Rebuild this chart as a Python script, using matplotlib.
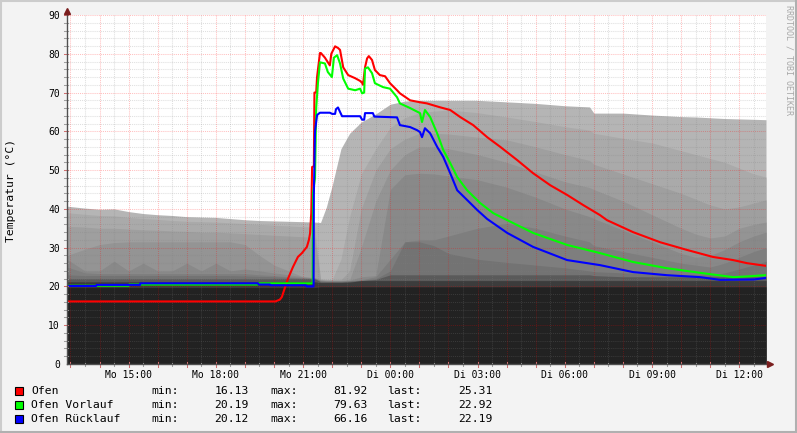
import matplotlib

matplotlib.use("Agg")
import matplotlib.pyplot as plt
import numpy as np
from matplotlib.lines import Line2D
from matplotlib.patches import Rectangle

W, H = 797, 433
MONO = "DejaVu Sans Mono"

# time axis: hours since Monday 00:00
T_START, T_END = 12.88, 36.92

# ---------------------------------------------------------------- data
# grey background layers (outlines of earlier days), top -> bottom
shade_t = [12.88, 13.5, 14.0, 14.5, 15.0, 15.5, 16.0, 16.5, 17.0, 17.5, 18.0,
           18.5, 19.0, 19.5, 20.0, 20.5, 21.0, 21.4,
           21.6, 21.8, 22.0, 22.3, 22.6, 23.0, 23.5, 24.0, 24.5, 25.0, 25.5,
           26.0, 27.0, 28.0, 29.0, 30.0, 30.85, 31.0, 32.0, 33.0, 34.0, 34.5,
           35.0, 35.5, 36.0, 36.5, 36.92]
shade_1 = [40.7, 40.2, 39.9, 40.0, 39.3, 38.8, 38.5, 38.3, 38.0, 37.9, 37.8,
           37.5, 37.2, 37.0, 36.9, 36.8, 36.7, 36.6,
           36.5, 40.5, 46.0, 55.5, 59.5, 62.4, 64.5, 67.0, 67.8, 68.0, 68.0,
           68.0, 68.0, 67.6, 67.2, 66.6, 66.3, 64.7, 64.7, 64.2, 63.8, 63.7,
           63.5, 63.3, 63.2, 63.1, 63.0]
shade_2 = [39.0, 38.6, 38.3, 38.2, 37.8, 37.5, 37.3, 37.0, 36.8, 36.7, 36.6,
           36.4, 36.2, 36.0, 35.8, 35.6, 35.4, 35.3,
           22.0, 21.8, 21.8, 27.0, 38.0, 49.0, 55.5, 61.0, 63.5, 64.8, 65.2,
           65.5, 64.8, 63.7, 62.5, 61.2, 60.3, 59.5, 58.2, 57.0, 55.0, 54.0,
           53.0, 52.0, 50.5, 49.0, 48.2]
shade_3 = [35.5, 35.3, 35.0, 35.0, 34.8, 34.6, 34.5, 34.3, 34.2, 34.0, 34.0,
           33.8, 33.6, 33.4, 33.2, 33.0, 32.8, 32.7,
           21.8, 21.7, 21.7, 21.7, 24.0, 40.0, 50.0, 55.5, 58.0, 59.5, 59.5,
           59.3, 58.5, 57.8, 56.0, 54.0, 52.5, 51.5, 49.0, 46.5, 44.0, 42.5,
           41.0, 40.0, 40.5, 41.5, 42.3]
shade_4 = [28.0, 29.6, 30.8, 31.3, 31.5, 31.5, 31.5, 31.5, 31.5, 31.5, 31.5,
           31.5, 30.8, 28.0, 25.5, 24.0, 22.5, 22.3,
           21.7, 21.6, 21.6, 21.6, 21.7, 30.0, 42.0, 50.0, 54.0, 56.0, 56.0,
           55.5, 54.0, 52.0, 49.5, 47.0, 45.5, 45.0, 42.0, 38.5, 35.0, 33.5,
           32.5, 33.0, 35.0, 36.0, 36.6]
shade_5 = [27.0, 24.0, 24.0, 26.5, 24.0, 26.0, 24.0, 24.0, 26.0, 24.0, 26.0,
           24.0, 24.5, 24.0, 23.5, 23.0, 22.5, 22.2,
           21.6, 21.5, 21.5, 21.5, 21.6, 21.7, 22.5, 45.0, 48.8, 49.2, 49.0,
           48.5, 47.5, 45.6, 43.0, 40.0, 38.0, 37.5, 34.5, 31.5, 28.5, 27.5,
           28.0, 29.5, 31.5, 33.0, 34.0]
shade_6 = [25.0, 23.5, 23.3, 23.3, 23.3, 23.3, 23.3, 23.3, 23.3, 23.3, 23.3,
           23.3, 23.3, 23.0, 22.8, 22.5, 22.3, 22.1,
           21.5, 21.4, 21.4, 21.4, 21.5, 21.6, 22.0, 27.0, 31.5, 32.0, 32.0,
           33.0, 35.0, 36.3, 35.0, 33.0, 31.5, 30.5, 29.0, 27.5, 26.0, 25.5,
           25.0, 26.0, 27.5, 29.0, 30.0]
shade_7 = [23.0, 22.8, 22.8, 22.8, 22.8, 22.8, 22.8, 22.8, 22.8, 22.8, 22.8,
           22.8, 22.7, 22.6, 22.5, 22.3, 22.1, 22.0,
           21.4, 21.3, 21.3, 21.3, 21.4, 21.5, 21.8, 24.0, 31.5, 31.5, 30.5,
           28.5, 27.0, 26.2, 25.5, 24.8, 24.0, 23.8, 23.5, 23.2, 23.0, 23.0,
           23.0, 23.5, 24.5, 25.5, 26.5]
shade_8 = [22.0, 22.0, 22.0, 22.0, 22.0, 22.0, 22.0, 22.0, 22.0, 22.0, 22.0,
           22.0, 22.0, 22.0, 22.0, 22.0, 22.0, 22.0,
           21.2, 21.2, 21.2, 21.2, 21.3, 22.5, 22.8, 23.0, 23.0, 23.0, 23.0,
           23.0, 23.0, 23.0, 23.0, 23.0, 23.0, 22.8, 22.5, 22.5, 22.5, 22.5,
           22.5, 22.5, 22.5, 22.5, 22.5]
shade_9 = [21.2, 21.2, 21.2, 21.2, 21.2, 21.2, 21.2, 21.2, 21.2, 21.2, 21.2,
           21.2, 21.2, 21.2, 21.2, 21.2, 21.2, 21.2,
           21.0, 21.0, 21.0, 21.0, 21.1, 21.5, 21.5, 21.5, 21.5, 21.5, 21.5,
           21.5, 21.5, 21.5, 21.5, 21.5, 21.5, 21.5, 21.5, 21.5, 21.5, 21.5,
           21.5, 21.5, 21.5, 21.5, 21.5]
shade_10 = [19.7, 19.7, 19.7, 19.7, 19.7, 19.7, 19.7, 19.7, 19.7, 19.7, 19.7,
            19.7, 19.7, 19.7, 19.7, 19.7, 19.7, 19.7,
            19.9, 19.9, 19.9, 19.9, 19.9, 19.9, 19.9, 19.9, 19.9, 19.9, 19.9,
            19.9, 19.9, 19.9, 19.9, 19.9, 19.9, 19.9, 19.9, 19.9, 19.9, 19.9,
            19.9, 19.9, 19.9, 19.9, 19.9]
shade_colors = ["#b5b5b5", "#aaaaaa", "#9f9f9f", "#949494", "#898989",
                "#7e7e7e", "#737373", "#5a5a5a", "#3c3c3c", "#222222"]

# Ofen
ofen_t = [12.88, 20.05, 20.10, 20.20, 20.27, 20.38, 20.48, 20.65, 20.82, 20.96,
          21.13, 21.20, 21.24, 21.28, 21.31, 21.37, 21.39, 21.45, 21.48, 21.58,
          21.61, 21.75, 21.92, 21.97, 22.10, 22.20, 22.27, 22.38, 22.55, 22.79,
          22.96, 23.03, 23.06, 23.13, 23.20, 23.26, 23.37, 23.47, 23.64, 23.82,
          23.99, 24.23, 24.33, 24.68, 25.02, 25.26, 25.71, 26.06, 26.40, 26.85,
          27.33, 27.78, 28.36, 28.91, 29.50, 30.08, 30.63, 31.21, 31.45, 32.35,
          33.28, 34.21, 35.10, 35.79, 36.27, 36.92]
ofen_v = [16.13, 16.13, 16.3, 16.6, 17.3, 19.8, 22.0, 25.0, 27.6, 28.6,
          30.2, 32.0, 33.7, 38.9, 50.8, 51.0, 70.0, 70.0, 74.0, 80.2,
          80.2, 79.0, 77.0, 80.0, 81.92, 81.5, 81.0, 76.5, 74.5, 73.7,
          73.0, 72.5, 72.0, 76.5, 78.8, 79.4, 78.4, 75.8, 74.5, 74.2,
          72.4, 70.6, 69.8, 68.0, 67.5, 67.2, 66.2, 65.5, 63.7, 61.6,
          58.5, 56.0, 52.6, 49.2, 46.1, 43.6, 41.0, 38.4, 37.1, 34.0,
          31.4, 29.4, 27.6, 26.8, 26.0, 25.31]

# Ofen Vorlauf
vor_t = [12.88, 15.0, 15.02, 19.45, 19.47, 21.33, 21.34, 21.41, 21.45, 21.51,
         21.58, 21.75, 21.85, 21.99, 22.06, 22.17, 22.27, 22.38, 22.55, 22.79,
         22.96, 23.03, 23.10, 23.13, 23.23, 23.37, 23.47, 23.75, 23.99, 24.23,
         24.33, 24.68, 25.02, 25.09, 25.19, 25.37, 25.61, 25.82, 26.06, 26.30,
         26.64, 27.09, 27.54, 28.02, 28.91, 30.08, 31.21, 32.35, 33.52, 34.66,
         35.79, 36.30, 36.92]
vor_v = [20.19, 20.19, 20.5, 20.5, 20.8, 20.8, 44.0, 48.0, 66.0, 72.4,
         77.8, 77.5, 75.3, 74.0, 79.0, 79.63, 77.5, 73.6, 71.0, 70.6,
         71.0, 69.8, 70.0, 76.2, 76.5, 75.0, 72.4, 71.4, 71.0, 68.8,
         67.2, 66.0, 64.7, 62.4, 65.5, 63.7, 59.5, 55.2, 51.8, 48.2,
         44.8, 41.5, 38.9, 37.1, 33.8, 30.7, 28.6, 26.3, 24.7, 23.5,
         22.4, 22.6, 22.92]

# Ofen Rücklauf
rueck_t = [12.88, 13.88, 13.90, 15.39, 15.40, 19.45, 19.47, 19.86, 19.88, 21.10,
           21.12, 21.36, 21.37, 21.41, 21.48, 21.58, 21.92, 22.00, 22.10, 22.13,
           22.20, 22.27, 22.34, 22.96, 23.03, 23.10, 23.13, 23.40, 23.45, 24.23,
           24.33, 24.68, 24.92, 25.02, 25.09, 25.19, 25.37, 25.61, 25.82, 26.06,
           26.30, 26.64, 26.99, 27.33, 28.02, 28.91, 30.08, 31.21, 32.35, 33.52,
           34.66, 35.34, 36.50, 36.92]
rueck_v = [20.12, 20.12, 20.4, 20.4, 20.8, 20.8, 20.5, 20.5, 20.3, 20.3,
           20.0, 20.0, 43.8, 60.0, 64.2, 64.8, 64.8, 64.5, 64.5, 65.7,
           66.16, 65.0, 63.9, 63.9, 63.0, 63.0, 64.7, 64.7, 63.8, 63.6,
           61.6, 61.1, 60.3, 59.8, 58.5, 60.8, 59.5, 56.0, 53.4, 49.2,
           44.8, 42.3, 39.7, 37.4, 33.8, 30.2, 26.8, 25.5, 23.7, 22.9,
           22.4, 21.7, 21.8, 22.19]

legend_names = ["Ofen", "Ofen Vorlauf", "Ofen Rücklauf"]
legend_colors = ["#ff0000", "#00ff00", "#0000ff"]
legend_min = ["16.13", "20.19", "20.12"]
legend_max = ["81.92", "79.63", "66.16"]
legend_last = ["25.31", "22.92", "22.19"]

xtick_pos = [15, 18, 21, 24, 27, 30, 33, 36]
xtick_labels = ["Mo 15:00", "Mo 18:00", "Mo 21:00", "Di 00:00",
                "Di 03:00", "Di 06:00", "Di 09:00", "Di 12:00"]


def fx(x):
    return x / W


def fy(y):
    return 1 - y / H


# ---------------------------------------------------------------- figure
fig = plt.figure(figsize=(W / 100, H / 100), dpi=100)
fig.patch.set_facecolor("#f3f3f3")
ax = fig.add_axes([fx(67), fy(364), (766 - 67) / W, (364 - 15) / H])
ax.set_facecolor("white")
ax.set_xlim(T_START, T_END)
ax.set_ylim(0, 90)

# grey layers: sorted so that deeper overlap is darker
levels = np.array([shade_1, shade_2, shade_3, shade_4, shade_5, shade_6,
                   shade_7, shade_8, shade_9, shade_10])
levels = -np.sort(-levels, axis=0)
for k in range(len(levels)):
    ax.fill_between(shade_t, 0, levels[k], color=shade_colors[k], lw=0,
                    zorder=1 + k * 0.01)

# dotted grid on top of the areas
dots = (0, (1, 1))
minor_c = (0.5, 0.5, 0.5, 0.25)
major_c = (1, 0, 0, 0.25)
for v in range(0, 91, 2):
    if v % 10:
        ax.axhline(v, color=minor_c, lw=0.75, ls=dots, zorder=3)
for v in range(10, 91, 10):
    ax.axhline(v, color=major_c, lw=0.75, ls=dots, zorder=3.1)
for h in np.arange(13.5, 36.6, 1.0):
    ax.axvline(h, color=minor_c, lw=0.75, ls=dots, zorder=3)
for h in range(13, 37):
    ax.axvline(h, color=major_c, lw=0.75, ls=dots, zorder=3.1)

# small ticks on the axes
xtr = ax.get_xaxis_transform()
ytr = ax.get_yaxis_transform()
for h in np.arange(13.5, 36.6, 1.0):
    ax.plot([h, h], [-0.006, 0.003], color="#a0a0a0", lw=0.75,
            transform=xtr, clip_on=False, zorder=6)
for h in range(13, 37):
    ax.plot([h, h], [-0.009, 0.006], color="#d07070", lw=0.75,
            transform=xtr, clip_on=False, zorder=6)
for v in range(2, 91, 2):
    ax.plot([-0.004, 0.002], [v, v], color="#a0a0a0" if v % 10 else "#d07070",
            lw=0.75, transform=ytr, clip_on=False, zorder=6)

# series
ax.plot(ofen_t, ofen_v, color="#ff0000", lw=1.5, zorder=5)
ax.plot(vor_t, vor_v, color="#00ff00", lw=1.5, zorder=5.1)
ax.plot(rueck_t, rueck_v, color="#0000ff", lw=1.5, zorder=5.2)

# axes
for s in ("top", "right"):
    ax.spines[s].set_visible(False)
for s in ("left", "bottom"):
    ax.spines[s].set_color("#505050")
    ax.spines[s].set_linewidth(1.0)
    ax.spines[s].set_zorder(7)
ax.plot([0], [1.012], marker="^", ms=5, color="#7a1e1e", mec="#7a1e1e",
        transform=ax.transAxes, clip_on=False, zorder=8)
ax.plot([1.006], [0], marker=">", ms=5, color="#7a1e1e", mec="#7a1e1e",
        transform=ax.transAxes, clip_on=False, zorder=8)

ax.set_yticks(range(0, 91, 10))
ax.set_yticklabels([str(v) for v in range(0, 91, 10)])
ax.set_xticks(xtick_pos)
ax.set_xticklabels(xtick_labels)
ax.tick_params(length=0, labelsize=7, colors="#000000")
ax.tick_params(axis="y", pad=5)
ax.tick_params(axis="x", pad=4)
for lbl in ax.get_xticklabels() + ax.get_yticklabels():
    lbl.set_family(MONO)

fig.text(fx(11), fy(190), "Temperatur (°C)", rotation=90, ha="center",
         va="center", family=MONO, fontsize=8.2)
fig.text(fx(789), fy(5), "RRDTOOL / TOBI OETIKER", rotation=270, ha="center",
         va="top", family=MONO, fontsize=6, color="#a8a8a8")

# legend
row_y = [391, 404.5, 418.5]
for i in range(3):
    y = row_y[i]
    fig.add_artist(Rectangle((fx(15), fy(y + 4)), 8 / W, 8 / H,
                             transform=fig.transFigure, fc=legend_colors[i],
                             ec="black", lw=0.8))
    fig.text(fx(31), fy(y), legend_names[i], family=MONO, fontsize=8.2,
             va="center", ha="left")
    fig.text(fx(151), fy(y), "min:", family=MONO, fontsize=8.2,
             va="center", ha="left")
    fig.text(fx(249), fy(y), legend_min[i], family=MONO, fontsize=8.2,
             va="center", ha="right")
    fig.text(fx(270), fy(y), "max:", family=MONO, fontsize=8.2,
             va="center", ha="left")
    fig.text(fx(368), fy(y), legend_max[i], family=MONO, fontsize=8.2,
             va="center", ha="right")
    fig.text(fx(387), fy(y), "last:", family=MONO, fontsize=8.2,
             va="center", ha="left")
    fig.text(fx(493), fy(y), legend_last[i], family=MONO, fontsize=8.2,
             va="center", ha="right")

# canvas frame
fig.add_artist(Line2D([0, 1], [fy(0.5), fy(0.5)], color="#cccccc", lw=1.5))
fig.add_artist(Line2D([fx(0.5), fx(0.5)], [0, 1], color="#cccccc", lw=1.5))
fig.add_artist(Line2D([0, 1], [fy(432), fy(432)], color="#b0b0b0", lw=1.5))
fig.add_artist(Line2D([fx(796), fx(796)], [0, 1], color="#b0b0b0", lw=1.5))

fig.savefig("out.png", dpi=100)
